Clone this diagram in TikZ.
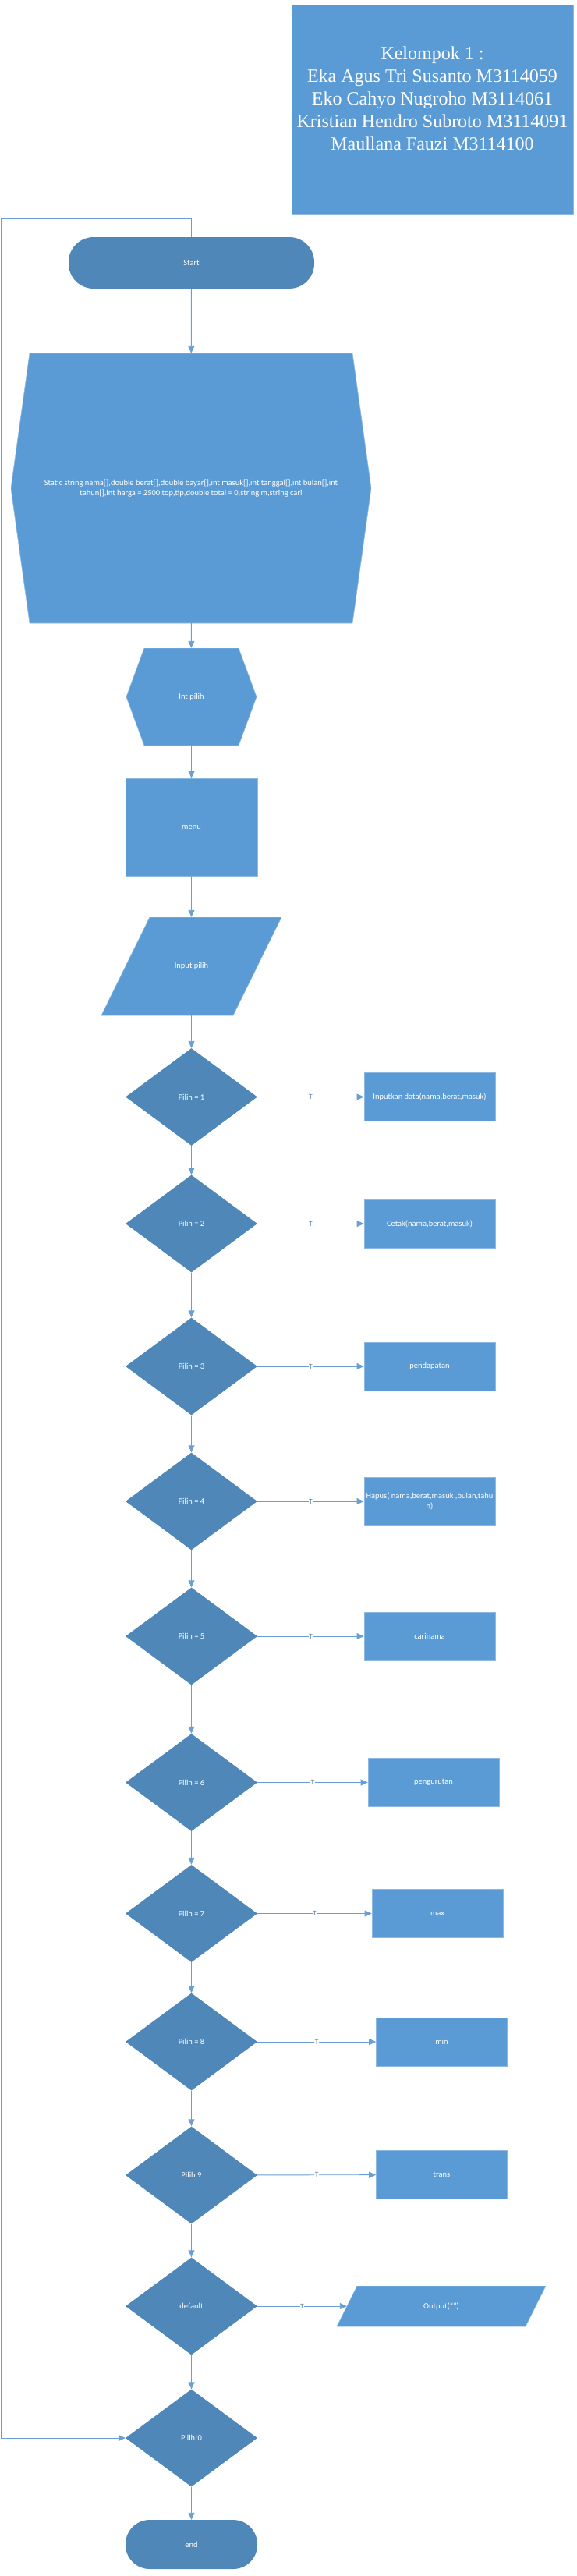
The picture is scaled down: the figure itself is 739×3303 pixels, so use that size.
\documentclass[tikz,border=0pt]{standalone}
\usepackage{fontspec}
\setmainfont{Carlito}
\newfontfamily\kelfont{Liberation Serif}
\usetikzlibrary{shapes.geometric,arrows.meta,calc}
\definecolor{boxfill}{HTML}{5B9BD5}
\definecolor{darkfill}{HTML}{4F87B9}
\definecolor{linecol}{HTML}{6A9FD4}
\definecolor{edgecol}{HTML}{8DB8E2}
\definecolor{tcol}{HTML}{5A80AA}
\begin{document}
\begin{tikzpicture}[x=1pt,y=-1pt,
  every node/.style={text=white, font=\fontsize{10.5}{12.5}\selectfont, inner sep=0pt, align=center},
  procbox/.style={rectangle, fill=boxfill, draw=edgecol, line width=0.6pt, minimum width=168, minimum height=62},
  decision/.style={diamond, fill=darkfill, minimum width=169, minimum height=125},
  termbox/.style={rectangle, fill=darkfill, rounded corners=31pt, minimum width=169, minimum height=63},
  hexshape/.style={path picture={\filldraw[fill=boxfill,draw=edgecol,line width=0.6pt]
     ([xshift=#1]path picture bounding box.north west) -- ([xshift=-#1]path picture bounding box.north east)
     -- (path picture bounding box.east) -- ([xshift=-#1]path picture bounding box.south east)
     -- ([xshift=#1]path picture bounding box.south west) -- (path picture bounding box.west) -- cycle;}},
  pgram/.style={path picture={\filldraw[fill=boxfill,draw=edgecol,line width=0.6pt]
     ([xshift=#1]path picture bounding box.north west) -- (path picture bounding box.north east)
     -- ([xshift=-#1]path picture bounding box.south east) -- (path picture bounding box.south west) -- cycle;}},
  arr/.style={draw=linecol, line width=0.9pt, -{Triangle[length=9pt,width=8pt]}},
  tlab/.style={fill=white, text=tcol, font=\fontsize{9.5}{10}\selectfont, inner sep=0.6pt},
]
\useasboundingbox (0,0) rectangle (739,3303);

% title box
\node[rectangle, fill=boxfill, draw=edgecol, line width=0.6pt, minimum width=361, minimum height=269] (kel) at (554.5,140.5) {};
\node[font=\kelfont\fontsize{24}{29}\selectfont] (kelt) at (554.5,126) {Kelompok 1 :\\Eka Agus Tri Susanto M3114059\\Eko Cahyo Nugroho M3114061\\Kristian Hendro Subroto M3114091\\Maullana Fauzi M3114100};

% main column
\node[termbox, minimum width=315, minimum height=66, rounded corners=32pt] (start) at (245.5,337) {Start};
\node[minimum width=462, minimum height=346, hexshape=24pt] (decl) at (245,626)
  {Static string nama[],double berat[],double bayar[],int masuk[],int tanggal[],int bulan[],int\\[0.5pt]tahun[],int harga = 2500,top,tip,double total = 0,string m,string cari};
\node[minimum width=167, minimum height=125, hexshape=23pt] (intp) at (245.5,893.5) {Int pilih};
\node[procbox, minimum width=169, minimum height=125] (menu) at (245.5,1060.5) {menu};
\node[minimum width=231, minimum height=126, pgram=62pt] (inp) at (245.5,1239) {Input pilih};

\node[decision] (d1) at (245.5,1406.5) {Pilih = 1};
\node[decision] (d2) at (245.5,1569) {Pilih = 2};
\node[decision] (d3) at (245.5,1752) {Pilih = 3};
\node[decision] (d4) at (245.5,1925) {Pilih = 4};
\node[decision] (d5) at (245.5,2098) {Pilih = 5};
\node[decision] (d6) at (245.5,2285.5) {Pilih = 6};
\node[decision] (d7) at (245.5,2453.5) {Pilih = 7};
\node[decision] (d8) at (245.5,2618) {Pilih = 8};
\node[decision] (d9) at (245.5,2789) {Pilih 9};
\node[decision] (ddef) at (245.5,2957) {default};
\node[decision] (d0) at (245.5,3126) {Pilih!0};
\node[termbox] (endn) at (245.5,3262.5) {end};

% right column
\node[procbox] (b1) at (551,1406.5) {Inputkan data(nama,berat,masuk)};
\node[procbox] (b2) at (551,1569) {Cetak(nama,berat,masuk)};
\node[procbox] (b3) at (551,1752) {pendapatan};
\node[procbox] (b4) at (551,1925) {Hapus( nama,berat,masuk ,bulan,tahu\\n)};
\node[procbox] (b5) at (551,2098) {carinama};
\node[procbox] (b6) at (556,2285.5) {pengurutan};
\node[procbox] (b7) at (561,2453.5) {max};
\node[procbox] (b8) at (566.5,2618) {min};
\node[procbox] (b9) at (566.5,2788.5) {trans};
\node[minimum width=268, minimum height=52, pgram=26pt] (outp) at (566,2957) {Output(“”)};

% main flow
\draw[arr] (start) -- (decl);
\draw[arr] (decl) -- (intp);
\draw[arr] (intp) -- (menu);
\draw[arr] (menu) -- (inp);
\draw[arr] (inp) -- (d1);
\draw[arr] (d1) -- (d2);
\draw[arr] (d2) -- (d3);
\draw[arr] (d3) -- (d4);
\draw[arr] (d4) -- (d5);
\draw[arr] (d5) -- (d6);
\draw[arr] (d6) -- (d7);
\draw[arr] (d7) -- (d8);
\draw[arr] (d8) -- (d9);
\draw[arr] (d9) -- (ddef);
\draw[arr] (ddef) -- (d0);
\draw[arr] (d0) -- (endn);

% true branches
\draw[arr] (d1) -- node[tlab]{T} (b1);
\draw[arr] (d2) -- node[tlab]{T} (b2);
\draw[arr] (d3) -- node[tlab]{T} (b3);
\draw[arr] (d4) -- node[tlab]{T} (b4);
\draw[arr] (d5) -- node[tlab]{T} (b5);
\draw[arr] (d6) -- node[tlab]{T} (b6);
\draw[arr] (d7) -- node[tlab]{T} (b7);
\draw[arr] (d8) -- node[tlab]{T} (b8);
\draw[arr] (d9) -- node[tlab]{T} (b9);
\draw[arr] (ddef.east) -- node[tlab]{T} ([xshift=13pt]outp.west);

% loop back
\coordinate (loopc) at (1.5,280);
\draw[arr] (start.north) |- (loopc) |- (d0.west);
\end{tikzpicture}
\end{document}
